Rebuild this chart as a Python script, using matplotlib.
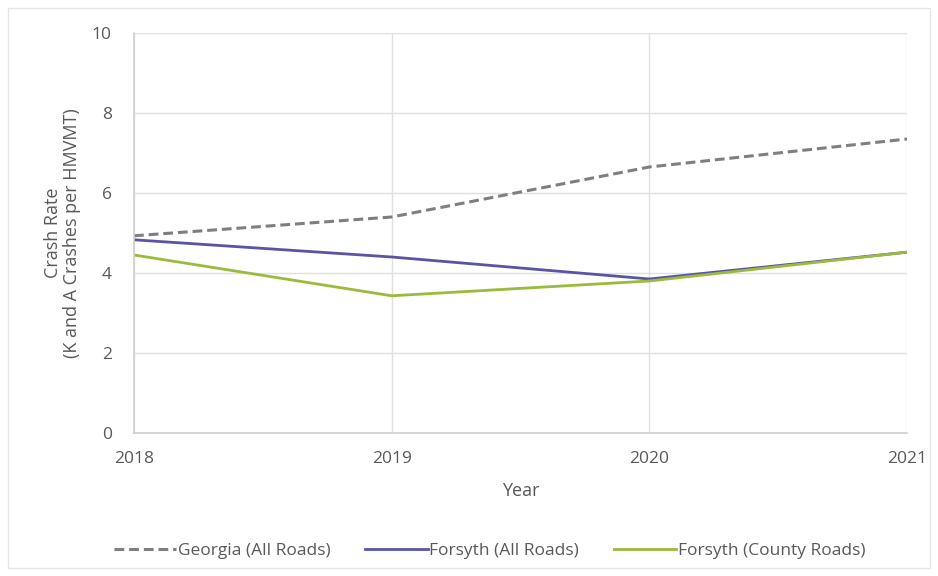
import matplotlib
matplotlib.use("Agg")
import matplotlib.pyplot as plt
from matplotlib.patches import Rectangle

# ---------------------------------------------------------------------------
# Data
# ---------------------------------------------------------------------------

years          = [2018, 2019, 2020, 2021]
georgia_all    = [4.93, 5.40, 6.65, 7.35]
forsyth_all    = [4.83, 4.40, 3.85, 4.52]
forsyth_county = [4.45, 3.43, 3.80, 4.52]

y_ticks = [0, 2, 4, 6, 8, 10]

TEXT  = "#595959"
GRID  = "#e0e0e0"
GRAY  = "#7f7f7f"
PURPLE = "#5b54a6"
GREEN = "#9bbb3c"

plt.rcParams["font.family"] = ["Open Sans", "DejaVu Sans"]

fig = plt.figure(figsize=(9.38, 5.76), dpi=100)
ax = fig.add_axes([0.1429, 0.2483, 0.967 - 0.1429, 0.9427 - 0.2483])

# outer chart border
fig.patches.append(Rectangle((0.009, 0.014), 0.982, 0.972, transform=fig.transFigure,
                             fill=False, edgecolor="#e6e6e6", linewidth=1))

ax.plot(years, georgia_all, color=GRAY, linewidth=2.2, linestyle=(0, (3.2, 1.6)),
        label="Georgia (All Roads)")
ax.plot(years, forsyth_all, color=PURPLE, linewidth=2.0, label="Forsyth (All Roads)")
ax.plot(years, forsyth_county, color=GREEN, linewidth=2.0, label="Forsyth (County Roads)")

ax.set_xlim(years[0], years[-1])
ax.set_ylim(0, 10)
ax.set_xticks(years)
ax.set_yticks(y_ticks)
ax.grid(True, color=GRID, linewidth=1)
ax.set_axisbelow(True)

for side in ("top", "right"):
    ax.spines[side].set_visible(False)
for side in ("left", "bottom"):
    ax.spines[side].set_color("#d0d0d0")
    ax.spines[side].set_linewidth(1.2)

ax.tick_params(axis="both", length=0, labelsize=12.5, colors=TEXT)
ax.tick_params(axis="x", pad=13)
ax.tick_params(axis="y", pad=16)

ax.set_xlabel("Year", fontsize=13, color=TEXT, labelpad=11)
ax.set_ylabel("Crash Rate\n(K and A Crashes per HMVMT)", fontsize=13, color=TEXT,
              labelpad=8, linespacing=1.05)

ax.legend(loc="upper center", bbox_to_anchor=(0.46, -0.235), ncol=3, frameon=False,
          fontsize=12.5, labelcolor=TEXT, handlelength=3.6, handletextpad=0.1,
          columnspacing=2.0)

fig.savefig("out.png", dpi=100, facecolor="white")
